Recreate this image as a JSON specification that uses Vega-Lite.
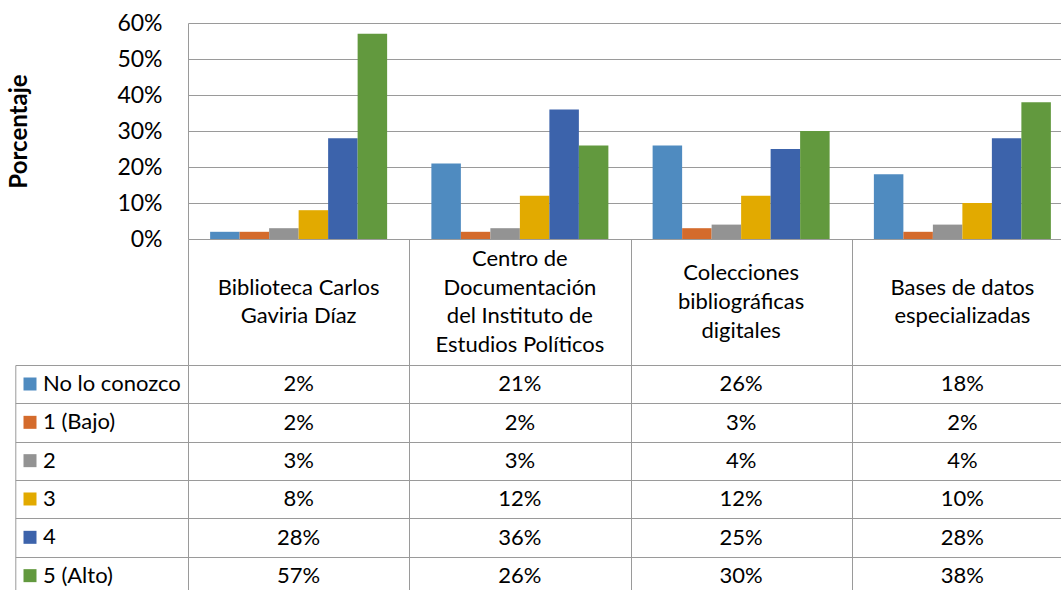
{
  "$schema": "https://vega.github.io/schema/vega-lite/v6.json",
  "padding": {"left": 7, "top": 12, "right": 0, "bottom": 0},
  "datasets": {
    "vals": [
      {"cat": "Biblioteca Carlos Gaviria Díaz", "serie": "No lo conozco", "value": 0.02},
      {"cat": "Biblioteca Carlos Gaviria Díaz", "serie": "1 (Bajo)", "value": 0.02},
      {"cat": "Biblioteca Carlos Gaviria Díaz", "serie": "2", "value": 0.03},
      {"cat": "Biblioteca Carlos Gaviria Díaz", "serie": "3", "value": 0.08},
      {"cat": "Biblioteca Carlos Gaviria Díaz", "serie": "4", "value": 0.28},
      {"cat": "Biblioteca Carlos Gaviria Díaz", "serie": "5 (Alto)", "value": 0.57},
      {"cat": "Centro de Documentación del Instituto de Estudios Políticos", "serie": "No lo conozco", "value": 0.21},
      {"cat": "Centro de Documentación del Instituto de Estudios Políticos", "serie": "1 (Bajo)", "value": 0.02},
      {"cat": "Centro de Documentación del Instituto de Estudios Políticos", "serie": "2", "value": 0.03},
      {"cat": "Centro de Documentación del Instituto de Estudios Políticos", "serie": "3", "value": 0.12},
      {"cat": "Centro de Documentación del Instituto de Estudios Políticos", "serie": "4", "value": 0.36},
      {"cat": "Centro de Documentación del Instituto de Estudios Políticos", "serie": "5 (Alto)", "value": 0.26},
      {"cat": "Colecciones bibliográficas digitales", "serie": "No lo conozco", "value": 0.26},
      {"cat": "Colecciones bibliográficas digitales", "serie": "1 (Bajo)", "value": 0.03},
      {"cat": "Colecciones bibliográficas digitales", "serie": "2", "value": 0.04},
      {"cat": "Colecciones bibliográficas digitales", "serie": "3", "value": 0.12},
      {"cat": "Colecciones bibliográficas digitales", "serie": "4", "value": 0.25},
      {"cat": "Colecciones bibliográficas digitales", "serie": "5 (Alto)", "value": 0.30},
      {"cat": "Bases de datos especializadas", "serie": "No lo conozco", "value": 0.18},
      {"cat": "Bases de datos especializadas", "serie": "1 (Bajo)", "value": 0.02},
      {"cat": "Bases de datos especializadas", "serie": "2", "value": 0.04},
      {"cat": "Bases de datos especializadas", "serie": "3", "value": 0.10},
      {"cat": "Bases de datos especializadas", "serie": "4", "value": 0.28},
      {"cat": "Bases de datos especializadas", "serie": "5 (Alto)", "value": 0.38}
    ],
    "cats": [
      {"cat": "Biblioteca Carlos Gaviria Díaz", "label": "Biblioteca Carlos\nGaviria Díaz"},
      {"cat": "Centro de Documentación del Instituto de Estudios Políticos", "label": "Centro de\nDocumentación\ndel Instituto de\nEstudios Políticos"},
      {"cat": "Colecciones bibliográficas digitales", "label": "Colecciones\nbibliográficas\ndigitales"},
      {"cat": "Bases de datos especializadas", "label": "Bases de datos\nespecializadas"}
    ]
  },
  "config": {
    "view": {"stroke": null},
    "font": "Lato",
    "axis": {
      "labelFont": "Lato", "titleFont": "Lato",
      "labelColor": "#000000", "titleColor": "#000000",
      "gridColor": "#9A9A9A", "gridOpacity": 1, "gridWidth": 1,
      "domainColor": "#9A9A9A", "domainWidth": 1,
      "tickColor": "#9A9A9A", "tickWidth": 1
    },
    "legend": {"labelFont": "Lato"}
  },
  "spacing": 0,
  "bounds": "flush",
  "resolve": {"scale": {"x": "independent", "y": "independent"}},
  "vconcat": [
    {
      "width": 885,
      "height": 216,
      "data": {"name": "vals"},
      "mark": {"type": "bar"},
      "encoding": {
        "x": {
          "field": "cat", "type": "nominal",
          "sort": ["Biblioteca Carlos Gaviria Díaz", "Centro de Documentación del Instituto de Estudios Políticos", "Colecciones bibliográficas digitales", "Bases de datos especializadas"],
          "scale": {"paddingInner": 0, "paddingOuter": 0},
          "axis": null
        },
        "xOffset": {
          "field": "serie", "type": "nominal",
          "sort": ["No lo conozco", "1 (Bajo)", "2", "3", "4", "5 (Alto)"],
          "scale": {"paddingInner": 0, "paddingOuter": 0.75}
        },
        "y": {
          "field": "value", "type": "quantitative",
          "scale": {"domain": [0, 0.6], "nice": false},
          "axis": {
            "values": [0, 0.1, 0.2, 0.3, 0.4, 0.5, 0.6],
            "format": ".0%",
            "grid": true,
            "ticks": false,
            "tickSize": 0,
            "labelPadding": 26,
            "labelFontSize": 23,
            "domain": true,
            "title": "Porcentaje",
            "titleFontSize": 24,
            "titleFontWeight": "bold",
            "titlePadding": 85
          }
        },
        "color": {
          "field": "serie", "type": "nominal",
          "scale": {
            "domain": ["No lo conozco", "1 (Bajo)", "2", "3", "4", "5 (Alto)"],
            "range": ["#4F8BC0", "#D46B2C", "#939393", "#E2AA00", "#3C63AB", "#62993E"]
          },
          "legend": {
            "orient": "none",
            "legendX": -169,
            "legendY": 350,
            "title": null,
            "padding": 0,
            "symbolType": "square",
            "symbolSize": 169,
            "symbolStrokeWidth": 0,
            "symbolOpacity": 1,
            "labelFontSize": 22,
            "labelColor": "#000000",
            "labelOffset": 2,
            "rowPadding": 16.33
          }
        }
      }
    },
    {
      "width": 885,
      "height": 126,
      "data": {"name": "cats"},
      "mark": {
        "type": "text", "lineBreak": "\n", "fontSize": 22, "lineHeight": 28.8,
        "baseline": "middle", "color": "#000000",
        "dy": {"expr": "-(length(split(datum.label, '\\n')) - 1) * 14.4"}
      },
      "encoding": {
        "x": {
          "field": "cat", "type": "nominal",
          "sort": ["Biblioteca Carlos Gaviria Díaz", "Centro de Documentación del Instituto de Estudios Políticos", "Colecciones bibliográficas digitales", "Bases de datos especializadas"],
          "scale": {"paddingInner": 0, "paddingOuter": 0},
          "axis": {"title": null, "labels": false, "ticks": false, "domain": false, "grid": true, "tickBand": "extent"}
        },
        "text": {"field": "label"}
      }
    },
    {
      "width": 885,
      "height": 230,
      "data": {"name": "vals"},
      "mark": {"type": "text", "fontSize": 22, "baseline": "middle", "color": "#000000"},
      "encoding": {
        "x": {
          "field": "cat", "type": "nominal",
          "sort": ["Biblioteca Carlos Gaviria Díaz", "Centro de Documentación del Instituto de Estudios Políticos", "Colecciones bibliográficas digitales", "Bases de datos especializadas"],
          "scale": {"paddingInner": 0, "paddingOuter": 0},
          "axis": {"title": null, "labels": false, "ticks": false, "domain": false, "grid": true, "tickBand": "extent"}
        },
        "y": {
          "field": "serie", "type": "nominal",
          "sort": ["No lo conozco", "1 (Bajo)", "2", "3", "4", "5 (Alto)"],
          "scale": {"paddingInner": 0, "paddingOuter": 0},
          "axis": {"title": null, "labels": false, "ticks": true, "tickSize": -172.7, "offset": 172.7, "domain": true, "grid": true, "tickBand": "extent"}
        },
        "text": {"field": "value", "type": "quantitative", "format": ".0%"}
      }
    }
  ]
}
